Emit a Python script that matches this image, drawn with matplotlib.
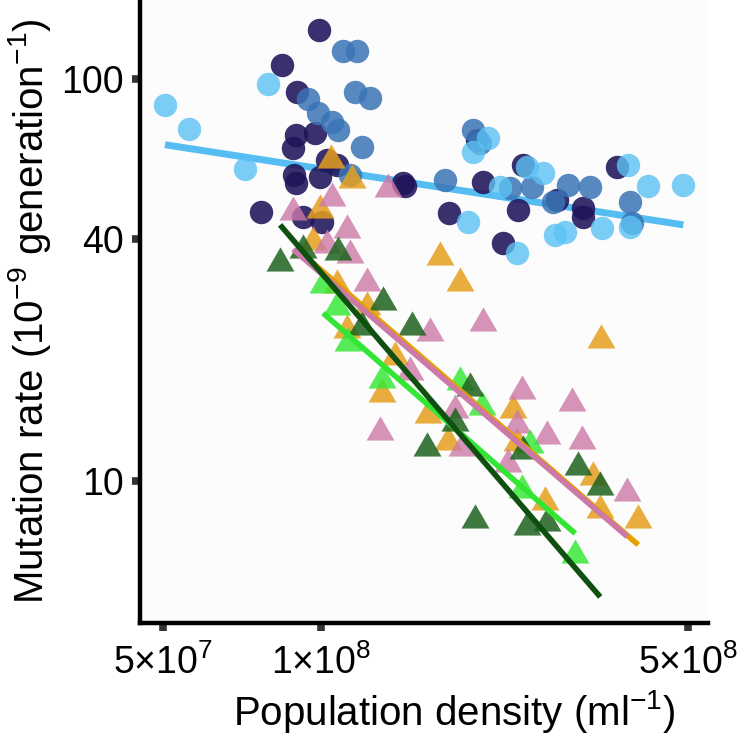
import numpy as np
import matplotlib.pyplot as plt

plt.rcParams['font.family'] = ['Liberation Sans', 'DejaVu Sans']
plt.rcParams['mathtext.fontset'] = 'custom'
plt.rcParams['mathtext.rm'] = 'Liberation Sans'
plt.rcParams['mathtext.it'] = 'Liberation Sans:italic'

# population density in units of 1e8 per ml, mutation rate in 1e-9 per generation
# circles (three shades of blue, one fitted line)
light_x = [0.5045, 0.5604, 0.7167, 0.7925, 2.0801, 1.9476, 2.4683, 2.6474, 3.8437,
           4.1966, 4.8920, 1.9055, 2.3622, 2.7902, 2.9150, 3.4286, 3.8776, 2.1928]
light_y = [86.2, 75.1, 59.7, 97.2, 71.3, 65.8, 60.4, 58.3, 61.1,
           54.2, 54.5, 44.1, 36.9, 40.9, 41.6, 42.6, 42.8, 53.8]

mid_x = [1.1012, 1.1710, 1.1608, 1.2398, 0.9445, 0.9869, 1.0495, 1.0774, 1.1971, 1.1357,
         1.7222, 1.9476, 2.0085, 2.5229, 2.9537, 3.2531, 3.8776, 2.7658, 3.9117, 2.2909]
mid_y = [117.4, 117.4, 92.8, 89.7, 89.2, 82.3, 78.2, 74.7, 67.7, 57.7,
         56.1, 74.7, 69.3, 53.8, 54.5, 53.8, 49.4, 49.4, 43.8, 53.5]

navy_x = [0.9913, 0.8427, 0.9002, 0.8963, 0.9741, 0.8846, 1.0266, 1.0727, 0.8885, 0.8963,
          0.9956, 0.7687, 0.9241, 1.0044, 1.4330, 1.4454, 1.7530, 2.0350, 2.3726, 2.2218,
          2.4254, 2.8147, 3.1547, 3.1547, 3.6627, 1.9821]
navy_y = [132.4, 108.3, 92.8, 72.6, 73.4, 67.4, 62.9, 61.1, 57.7, 55.1,
          57.0, 46.7, 45.4, 44.1, 55.1, 54.2, 46.4, 55.4, 47.2, 39.1,
          61.1, 50.0, 47.8, 45.4, 60.4, 70.5]

# triangles (four groups, each with its own line)
orange_x = [1.0448, 1.1457, 0.9956, 0.9656, 1.6849, 1.8396, 3.4136, 1.0727, 1.1208, 1.3836,
            1.3070, 1.5988, 2.3213, 1.7454, 2.3622, 2.6707, 3.2961, 3.3987, 4.0154, 1.2236]
orange_y = [62.9, 56.1, 47.2, 39.3, 36.1, 31.1, 22.4, 30.7, 23.7, 20.3,
            16.4, 14.6, 15.0, 12.5, 12.4, 8.87, 10.2, 8.47, 8.0, 27.1]

pink_x = [0.8846, 1.0495, 1.3418, 1.1208, 1.0266, 1.1357, 1.2236, 1.6128, 2.0350, 1.4776,
          1.2956, 1.8557, 2.2710, 2.4147, 3.0058, 2.3622, 2.6942, 3.1409, 3.8269, 1.7996]
pink_y = [46.7, 50.6, 53.2, 42.1, 38.6, 36.5, 31.1, 23.3, 24.7, 18.7,
          13.2, 12.1, 11.0, 16.7, 15.6, 13.8, 12.9, 12.6, 9.34, 15.0]

dgreen_x = [0.8354, 0.9241, 1.0774, 1.1971, 1.3127, 1.4906, 1.9222, 1.7996, 1.5917, 2.4254,
            3.0864, 3.3987, 1.9648, 2.4683, 2.6942]
dgreen_y = [34.8, 37.6, 37.1, 24.2, 27.9, 24.2, 17.0, 13.9, 12.1, 11.9,
            10.8, 9.66, 8.0, 7.69, 7.86]

bgreen_x = [1.0088, 1.0727, 1.1257, 1.3070, 1.8396, 2.0261, 2.4147, 3.0462, 2.5009]
bgreen_y = [30.7, 27.1, 22.0, 17.8, 17.6, 15.3, 9.50, 6.55, 12.3]

# fitted log-log lines: rate at 1e8 per ml, and slope
fit_at_1e8 = {'blue': 59.7, 'orange': 33.45, 'pink': 32.8, 'bgreen': 26.4, 'dgreen': 32.96}
fit_slope = {'blue': -0.202, 'orange': -1.132, 'pink': -1.123, 'bgreen': -1.142, 'dgreen': -1.518}

SCALE = 1e8


def fit_line(ax, key, xs, color, lw, z):
    xx = np.array([min(xs), max(xs)])
    yy = fit_at_1e8[key] * xx ** fit_slope[key]
    ax.plot(xx * SCALE, yy, color=color, lw=lw, solid_capstyle='butt', zorder=z)


fig = plt.figure(figsize=(7.48, 7.38), dpi=100)
ax = fig.add_axes([0.187, 0.156, 0.760, 0.844])
ax.set_facecolor('#FCFCFC')
ax.set_xscale('log')
ax.set_yscale('log')

circ = 285
tri = 540
fit_line(ax, 'blue', light_x + mid_x + navy_x, '#56BDF2', 5.0, 1)
ax.scatter(np.array(navy_x) * SCALE, navy_y, s=circ, color='#20145A', alpha=0.88, lw=0, zorder=2)
ax.scatter(np.array(mid_x) * SCALE, mid_y, s=circ, color='#3A74B6', alpha=0.85, lw=0, zorder=3)
ax.scatter(np.array(light_x) * SCALE, light_y, s=circ, color='#5CC2F4', alpha=0.8, lw=0, zorder=4)

ax.scatter(np.array(orange_x) * SCALE, orange_y, s=tri, marker=(3, 0, 0), color='#E6A01E', alpha=0.85, lw=0, zorder=5)
ax.scatter(np.array(pink_x) * SCALE, pink_y, s=tri, marker=(3, 0, 0), color='#CC79A7', alpha=0.8, lw=0, zorder=6)
ax.scatter(np.array(bgreen_x) * SCALE, bgreen_y, s=tri, marker=(3, 0, 0), color='#2EE82E', alpha=0.8, lw=0, zorder=7)
ax.scatter(np.array(dgreen_x) * SCALE, dgreen_y, s=tri, marker=(3, 0, 0), color='#1E621E', alpha=0.85, lw=0, zorder=8)

fit_line(ax, 'orange', orange_x, '#E69F00', 4.0, 9)
fit_line(ax, 'pink', pink_x, '#CC79A7', 4.0, 10)
fit_line(ax, 'bgreen', bgreen_x, '#33E633', 4.0, 11)
fit_line(ax, 'dgreen', dgreen_x, '#0F4F0F', 4.0, 12)

ax.set_xlim(0.4519e8, 5.459e8)
ax.set_ylim(4.435, 157)

ax.set_xticks([5e7, 1e8, 5e8])
ax.set_xticklabels(['5×10$^{7}$', '1×10$^{8}$', '5×10$^{8}$'])
ax.set_yticks([10, 40, 100])
ax.set_yticklabels(['10', '40', '100'])
ax.minorticks_off()
ax.tick_params(axis='both', which='major', length=5.5, width=5.5, color='#333333',
               labelsize=27, labelcolor='black')
ax.tick_params(axis='x', pad=10)
ax.tick_params(axis='y', pad=6)

for side in ['top', 'right']:
    ax.spines[side].set_visible(False)
for side in ['left', 'bottom']:
    ax.spines[side].set_linewidth(3.2)
    ax.spines[side].set_color('black')

ax.set_xlabel('Population density (ml$^{-1}$)', fontsize=29)
ax.xaxis.set_label_coords(0.553, -0.105)
ax.set_ylabel('Mutation rate (10$^{-9}$ generation$^{-1}$)', fontsize=29, labelpad=6)

fig.savefig('out.png', dpi=100)
